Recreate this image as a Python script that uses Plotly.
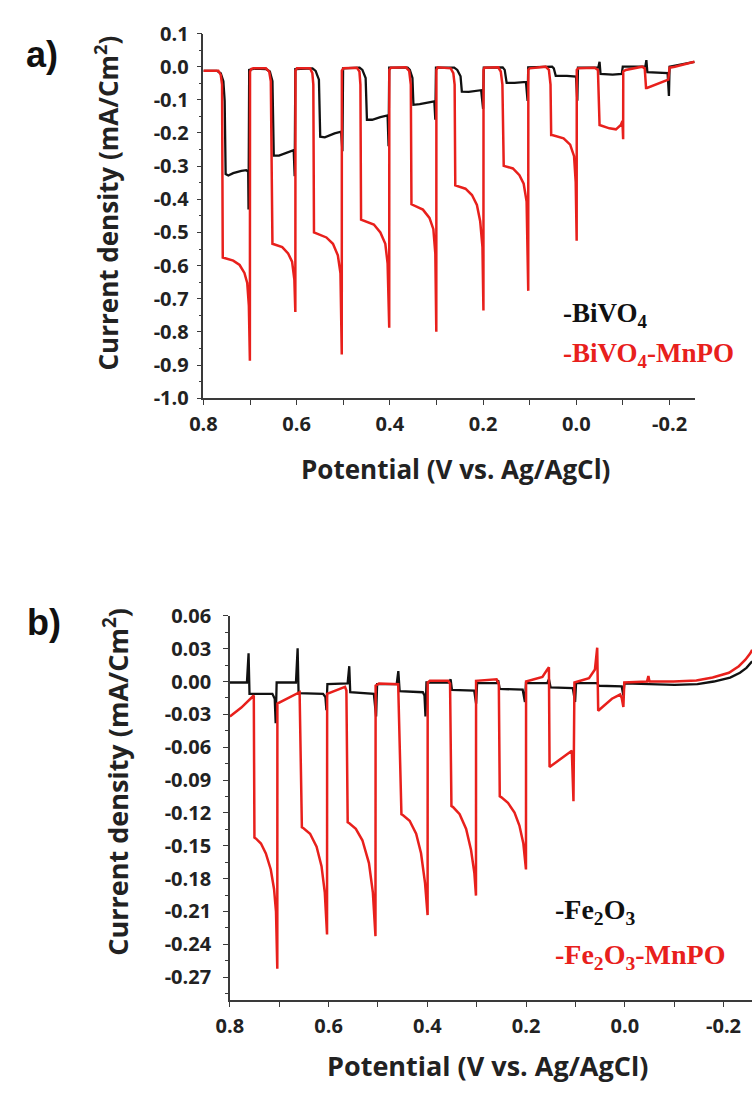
import plotly.graph_objects as go

# ---------------- Panel a: BiVO4 vs BiVO4-MnPO (chopped light) ----------------
pot_bivo4 = [0.800, 0.7712, 0.7628, 0.7572, 0.7544, 0.7523, 0.7466, 0.7361, 0.7186, 0.7081, 0.7039, 0.7032,
             0.7018, 0.690, 0.666, 0.6575, 0.6519, 0.6491,
             0.6379, 0.6203, 0.6063, 0.6042,
             0.6028, 0.566, 0.5593, 0.5522, 0.5494,
             0.5396, 0.5186, 0.5046, 0.5018,
             0.5004, 0.465, 0.4590, 0.4520, 0.4492,
             0.4380, 0.4204, 0.4049, 0.4028,
             0.4014, 0.362, 0.3572, 0.3516, 0.3495,
             0.3361, 0.3046, 0.3025,
             0.3011, 0.262, 0.2554, 0.2484, 0.2456,
             0.2309, 0.2042, 0.2000,
             0.1986, 0.158, 0.1537, 0.1495,
             0.1326, 0.1081, 0.1046,
             0.1032, 0.052, 0.0484, 0.0442,
             0.0203, 0.0007, -0.0021,
             -0.0035, -0.047, -0.0498, -0.0519,
             -0.0779, -0.0975, -0.0996,
             -0.148, -0.1502, -0.1523,
             -0.1958, -0.1986, -0.2000, -0.2533]
cur_bivo4 = [-0.0127, -0.0127, -0.0196, -0.044, -0.103, -0.324, -0.328, -0.321, -0.314, -0.312, -0.317, -0.431,
             -0.0098, -0.006, -0.007, -0.0147, -0.044, -0.268,
             -0.268, -0.258, -0.252, -0.330,
             -0.007, -0.005, -0.0127, -0.039, -0.211,
             -0.213, -0.201, -0.196, -0.255,
             -0.005, -0.003, -0.0098, -0.034, -0.160,
             -0.160, -0.152, -0.147, -0.240,
             -0.003, -0.003, -0.0098, -0.034, -0.115,
             -0.113, -0.105, -0.160,
             -0.003, -0.003, -0.0098, -0.029, -0.0755,
             -0.076, -0.071, -0.127,
             -0.003, -0.002, -0.0098, -0.049,
             -0.049, -0.046, -0.103,
             -0.002, 0.000, -0.005, -0.0275,
             -0.0275, -0.030, -0.103,
             -0.003, -0.003, 0.0147, -0.022,
             -0.024, -0.022, 0.000,
             0.000, 0.0196, -0.0167,
             -0.0196, -0.088, 0.000, 0.0147]

pot_bivo4_mnpo = [0.800, 0.768, 0.7628, 0.760, 0.7585, 0.754, 0.736, 0.7223, 0.712, 0.706, 0.7025, 0.7003,
                  0.7000, 0.6975, 0.693, 0.666, 0.6589, 0.6554, 0.6533,
                  0.6519, 0.6309, 0.6183, 0.6098, 0.6049, 0.6028,
                  0.6025, 0.5993, 0.5712, 0.5663, 0.5642, 0.5628,
                  0.5362, 0.5221, 0.5116, 0.5060, 0.5032,
                  0.5030, 0.4996, 0.4709, 0.4653, 0.4632, 0.4618,
                  0.4344, 0.4204, 0.4098, 0.4049, 0.4014,
                  0.4012, 0.3979, 0.3656, 0.3586, 0.3551, 0.3537,
                  0.3291, 0.3151, 0.3067, 0.3025, 0.3004,
                  0.3002, 0.2975, 0.2695, 0.2639, 0.2611, 0.2597,
                  0.2379, 0.2239, 0.2133, 0.2063, 0.2014, 0.1993,
                  0.1991, 0.1972, 0.1677, 0.1621, 0.1586, 0.1572,
                  0.1558, 0.1361, 0.1221, 0.1130, 0.1067, 0.1032,
                  0.1030, 0.1004, 0.0660, 0.0589, 0.0554, 0.0540,
                  0.0519, 0.0274, 0.0133, 0.0049, 0.0014, -0.0007,
                  -0.0009, -0.0042, -0.0393, -0.0463, -0.0484,
                  -0.0498, -0.0709, -0.0849, -0.0954, -0.0989, -0.1004,
                  -0.1006, -0.106, -0.141, -0.1467, -0.1495,
                  -0.1516, -0.1972, -0.2000, -0.2112, -0.2533]
cur_bivo4_mnpo = [-0.012, -0.012, -0.0245, -0.054, -0.5755, -0.577, -0.585, -0.598, -0.622, -0.652, -0.721, -0.887,
                  -0.015, -0.007, -0.005, -0.005, -0.0147, -0.044, -0.534,
                  -0.534, -0.544, -0.563, -0.588, -0.642, -0.740,
                  -0.012, -0.005, -0.005, -0.0196, -0.054, -0.500,
                  -0.515, -0.534, -0.569, -0.623, -0.868,
                  -0.012, -0.005, -0.003, -0.0147, -0.054, -0.461,
                  -0.476, -0.500, -0.534, -0.593, -0.787,
                  -0.010, -0.003, -0.002, -0.0127, -0.054, -0.415,
                  -0.431, -0.456, -0.490, -0.564, -0.799,
                  -0.010, -0.002, -0.005, -0.0196, -0.054, -0.358,
                  -0.368, -0.387, -0.417, -0.466, -0.544, -0.735,
                  -0.010, -0.003, -0.002, -0.0147, -0.054, -0.299,
                  -0.299, -0.307, -0.327, -0.353, -0.407, -0.676,
                  -0.010, -0.005, 0.000, -0.0098, -0.054, -0.206,
                  -0.206, -0.216, -0.235, -0.270, -0.348, -0.525,
                  -0.010, -0.005, -0.003, -0.0098, -0.176,
                  -0.176, -0.186, -0.189, -0.176, -0.164, -0.219,
                  -0.0147, -0.0098, 0.000, -0.005, -0.064,
                  -0.064, -0.039, -0.003, 0.000, 0.0147]

# ---------------- Panel b: Fe2O3 vs Fe2O3-MnPO (chopped light) ----------------
pot_fe2o3 = [0.800, 0.7655, 0.7622, 0.7603, 0.7139, 0.7092, 0.7073, 0.7053,
             0.6662, 0.6628, 0.6609, 0.6112, 0.6065, 0.6045, 0.6025,
             0.5615, 0.5582, 0.5562, 0.5084, 0.5038, 0.5018,
             0.4621, 0.4588, 0.4561, 0.4091, 0.4058, 0.4038, 0.4018,
             0.3561, 0.3528, 0.3502, 0.3051, 0.3012, 0.2992,
             0.2599, 0.2566, 0.2533, 0.2069, 0.2023, 0.2002,
             0.1570, 0.1537, 0.1504, 0.1053, 0.1007, 0.0987,
             0.0560, 0.0526, 0.0062, 0.0029, 0.0010,
             -0.0478, -0.1008, -0.1472, -0.1803, -0.2134, -0.2333, -0.2465, -0.2565, -0.2580]
cur_fe2o3 = [-0.0009, -0.0009, 0.0258, -0.0113, -0.0113, -0.0157, -0.038, -0.0009,
             -0.0009, 0.0303, -0.0107, -0.0113, -0.0143, -0.0261, -0.0024,
             -0.0018, 0.014, -0.0098, -0.0113, -0.032, -0.0024,
             -0.0024, 0.0095, -0.0089, -0.0098, -0.0128, -0.032, -0.0009,
             -0.0009, 0.002, -0.0077, -0.0083, -0.0202, -0.0015,
             -0.0015, 0.0012, -0.0068, -0.0074, -0.0187, -0.0015,
             -0.0015, 0.002, -0.0053, -0.006, -0.0187, -0.0015,
             -0.0015, -0.0039, -0.0045, -0.0128, -0.0018,
             -0.0024, -0.003, -0.0024, 0.000, 0.0036, 0.008, 0.0125, 0.0178, 0.0185]

pot_fe2o3_mnpo = [0.800, 0.7768, 0.7537, 0.7516, 0.7503,
                  0.747, 0.7371, 0.7272, 0.7172, 0.7106, 0.7066, 0.7040,
                  0.7038, 0.6588, 0.6542,
                  0.6509, 0.6376, 0.6244, 0.6144, 0.6078, 0.6032,
                  0.6030, 0.5668, 0.5640, 0.5614,
                  0.5581, 0.5449, 0.5316, 0.5183, 0.5104, 0.5051,
                  0.5048, 0.4980, 0.4650, 0.4591, 0.4525,
                  0.4492, 0.4359, 0.4227, 0.4128, 0.4048, 0.3995,
                  0.3993, 0.3950, 0.3578, 0.3540, 0.3512,
                  0.3479, 0.3346, 0.3214, 0.3115, 0.3048, 0.3015,
                  0.3013, 0.2598, 0.2552, 0.2533,
                  0.2499, 0.2367, 0.2234, 0.2135, 0.2055, 0.2002,
                  0.2000, 0.1669, 0.1570, 0.1537, 0.1524,
                  0.1073, 0.1040, 0.1020,
                  0.0725, 0.0605, 0.0559, 0.0539,
                  0.0261, 0.0095, 0.0062, 0.0029, 0.0010,
                  -0.045, -0.0478, -0.050, -0.0989, -0.145, -0.178, -0.211, -0.231, -0.2443, -0.2542, -0.258]
cur_fe2o3_mnpo = [-0.032, -0.0238, -0.0137, -0.0128, -0.1426,
                  -0.1435, -0.148, -0.157, -0.1717, -0.1895, -0.2103, -0.2623,
                  -0.0202, -0.0098, -0.1331,
                  -0.134, -0.139, -0.1509, -0.1687, -0.1925, -0.2311,
                  -0.0113, -0.0048, -0.0083, -0.1286,
                  -0.1295, -0.1346, -0.145, -0.1658, -0.1925, -0.2326,
                  -0.0039, -0.0018, -0.0018, -0.0024, -0.1212,
                  -0.1221, -0.1272, -0.139, -0.1569, -0.1836, -0.2133,
                  -0.0009, 0.0006, 0.0006, -0.002, -0.1138,
                  -0.1147, -0.1212, -0.1346, -0.1539, -0.1747, -0.1955,
                  0.0006, 0.0021, -0.0024, -0.1049,
                  -0.1058, -0.1108, -0.1197, -0.1316, -0.148, -0.1717,
                  0.000, 0.0042, 0.011, 0.013, -0.0781,
                  -0.0633, -0.1093, -0.0009,
                  0.003, 0.011, 0.0309, -0.0267,
                  -0.0157, -0.0119, -0.015, -0.0232, -0.0009,
                  0.000, 0.005, 0.000, 0.000, 0.001, 0.0036, 0.008, 0.014, 0.0199, 0.0258, 0.029]

# ---------------- Tick definitions ----------------
pot_tick_vals = [0.8, 0.6, 0.4, 0.2, 0.0, -0.2]
pot_tick_text = ["0.8", "0.6", "0.4", "0.2", "0.0", "-0.2"]
pot_minor_vals = [0.7, 0.5, 0.3, 0.1, -0.1]

cur_a_tick_vals = [0.1, 0.0, -0.1, -0.2, -0.3, -0.4, -0.5, -0.6, -0.7, -0.8, -0.9, -1.0]
cur_a_tick_text = ["0.1", "0.0", "-0.1", "-0.2", "-0.3", "-0.4", "-0.5", "-0.6", "-0.7", "-0.8", "-0.9", "-1.0"]
cur_a_minor_vals = [0.05, -0.05, -0.15, -0.25, -0.35, -0.45, -0.55, -0.65, -0.75, -0.85, -0.95]

cur_b_tick_vals = [0.06, 0.03, 0.0, -0.03, -0.06, -0.09, -0.12, -0.15, -0.18, -0.21, -0.24, -0.27]
cur_b_tick_text = ["0.06", "0.03", "0.00", "-0.03", "-0.06", "-0.09", "-0.12", "-0.15", "-0.18", "-0.21", "-0.24", "-0.27"]
cur_b_minor_vals = [0.045, 0.015, -0.015, -0.045, -0.075, -0.105, -0.135, -0.165, -0.195, -0.225, -0.255, -0.285]

BLACK = "#111111"
RED = "#e8201c"
AXIS = "#3a3a3a"
W, H = 752, 1097

fig = go.Figure()
fig.add_trace(go.Scatter(x=pot_bivo4, y=cur_bivo4, mode="lines",
                         line=dict(color=BLACK, width=2.3), xaxis="x", yaxis="y"))
fig.add_trace(go.Scatter(x=pot_bivo4_mnpo, y=cur_bivo4_mnpo, mode="lines",
                         line=dict(color=RED, width=2.5), xaxis="x", yaxis="y"))
fig.add_trace(go.Scatter(x=pot_fe2o3, y=cur_fe2o3, mode="lines",
                         line=dict(color=BLACK, width=2.3), xaxis="x2", yaxis="y2"))
fig.add_trace(go.Scatter(x=pot_fe2o3_mnpo, y=cur_fe2o3_mnpo, mode="lines",
                         line=dict(color=RED, width=2.5), xaxis="x2", yaxis="y2"))

tick_font = dict(family="Open Sans", size=20, color="#222222", weight="bold")


def xaxis_style(domain, rng, anchor):
    return dict(domain=domain, range=rng, anchor=anchor, showline=True, linecolor=AXIS, linewidth=1.5,
                showgrid=False, zeroline=False, ticks="outside", ticklen=5, tickwidth=1.3,
                tickcolor=AXIS, tickmode="array", tickvals=pot_tick_vals, ticktext=pot_tick_text,
                tickfont=tick_font, ticklabelstandoff=2,
                minor=dict(tickmode="array", tickvals=pot_minor_vals, ticks="outside",
                           ticklen=5, tickwidth=1.3, tickcolor=AXIS, showgrid=False))


def yaxis_style(domain, rng, anchor, vals, text, minor_vals, standoff):
    return dict(domain=domain, range=rng, anchor=anchor, showline=True, linecolor=AXIS, linewidth=1.5,
                showgrid=False, zeroline=False, ticks="outside", ticklen=5, tickwidth=1.3,
                tickcolor=AXIS, tickmode="array", tickvals=vals, ticktext=text,
                tickfont=tick_font, ticklabelstandoff=standoff,
                minor=dict(tickmode="array", tickvals=minor_vals, ticks="outside",
                           ticklen=3, tickwidth=1.1, tickcolor=AXIS, showgrid=False))


fig.update_layout(
    width=W, height=H, margin=dict(l=0, r=0, t=0, b=0),
    paper_bgcolor="white", plot_bgcolor="white", showlegend=False,
    xaxis=xaxis_style([193 / W, 694 / W], [0.8, -0.2547], "y"),
    yaxis=yaxis_style([1 - 394 / H, 1 - 20 / H], [-1.0, 0.1], "x",
                      cur_a_tick_vals, cur_a_tick_text, cur_a_minor_vals, 4),
    xaxis2=xaxis_style([220 / W, 1.0], [0.8, -0.2577], "y2"),
    yaxis2=yaxis_style([1 - 1011 / H, 1 - 617 / H], [-0.291, 0.06], "x2",
                       cur_b_tick_vals, cur_b_tick_text, cur_b_minor_vals, 8),
)


def label(text, px, py, size, family="Open Sans", color="#222222", angle=0, xanchor="center"):
    fig.add_annotation(text=text, x=px / W, y=1 - py / H, xref="paper", yref="paper",
                       showarrow=False, textangle=angle, xanchor=xanchor, yanchor="middle",
                       font=dict(family=family, size=size, color=color, weight="bold"))


# panel letters
label("a)", 29, 42, 36, family="Liberation Sans", color="#111111")
label("b)", 31, 624, 36, family="Liberation Sans", color="#111111")

# axis titles
label("Current density (mA/Cm<sup>2</sup>)", 95, 194, 26, angle=-90)
label("Potential (V vs. Ag/AgCl)", 450, 466, 26)
label("Current density (mA/Cm<sup>2</sup>)", 104, 787, 27, angle=-90)
label("Potential (V vs. Ag/AgCl)", 482, 1078, 27)

# series labels
label("-BiVO<sub>4</sub>", 557, 309, 27, family="Liberation Serif", color=BLACK, xanchor="left")
label("-BiVO<sub>4</sub>-MnPO", 557, 350, 27, family="Liberation Serif", color=RED, xanchor="left")
label("-Fe<sub>2</sub>O<sub>3</sub>", 549, 920, 28, family="Liberation Serif", color=BLACK, xanchor="left")
label("-Fe<sub>2</sub>O<sub>3</sub>-MnPO", 549, 966, 28, family="Liberation Serif", color=RED, xanchor="left")

fig.write_html("out.html")
